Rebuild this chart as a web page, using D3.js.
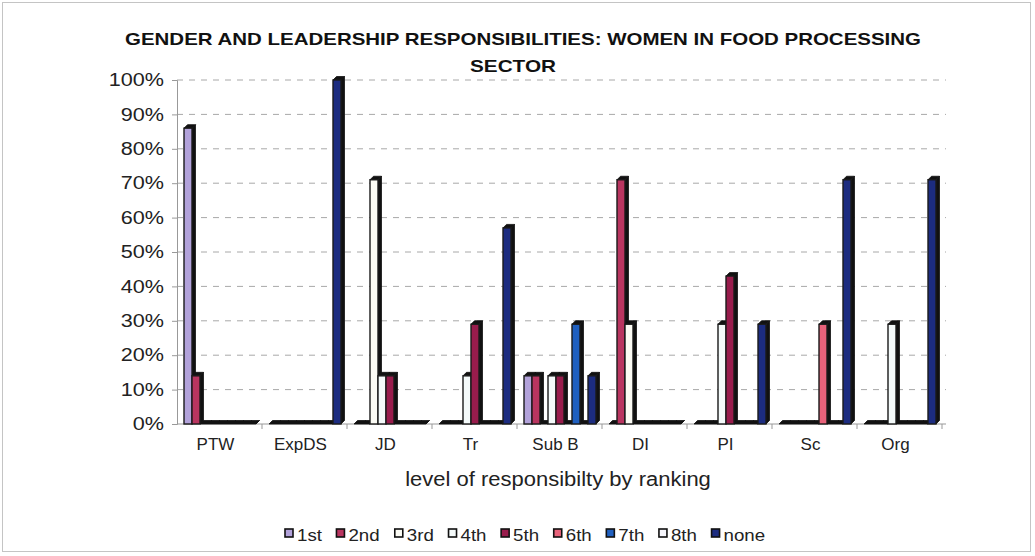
<!DOCTYPE html>
<html>
<head>
<meta charset="utf-8">
<script src="https://cdn.jsdelivr.net/npm/d3@7"></script>
<style>
  html, body { margin: 0; padding: 0; background: #fff; }
  svg { display: block; font-family: "Liberation Sans", Arial, sans-serif; }
</style>
</head>
<body>
<svg id="chart" width="1035" height="556"></svg>
<script>
// Categories of leadership responsibility
const categories = ["PTW", "ExpDS", "JD", "Tr", "Sub B", "DI", "PI", "Sc", "Org"];

// Ranking series (share of women, %)
const seriesNames = ["1st", "2nd", "3rd", "4th", "5th", "6th", "7th", "8th", "none"];
const rank1st  = [86, 0, 0, 0, 14, 0, 0, 0, 0];
const rank2nd  = [14, 0, 0, 0, 14, 71, 0, 0, 0];
const rank3rd  = [0, 0, 71, 0, 0, 29, 0, 0, 0];
const rank4th  = [0, 0, 14, 14, 14, 0, 29, 0, 29];
const rank5th  = [0, 0, 14, 29, 14, 0, 43, 0, 0];
const rank6th  = [0, 0, 0, 0, 0, 0, 0, 29, 0];
const rank7th  = [0, 0, 0, 0, 29, 0, 0, 0, 0];
const rank8th  = [0, 0, 0, 0, 0, 0, 0, 0, 0];
const rankNone = [0, 100, 0, 57, 14, 0, 29, 71, 71];
const seriesValues = [rank1st, rank2nd, rank3rd, rank4th, rank5th, rank6th, rank7th, rank8th, rankNone];
const seriesColors = ["#b2a2da", "#b93560", "#fbfbf4", "#f4fafa", "#981c4c", "#e8627a", "#2060c0", "#f6f6fc", "#1c2c80"];

const yTicks = [0, 10, 20, 30, 40, 50, 60, 70, 80, 90, 100];

const titleLines = ["GENDER AND LEADERSHIP RESPONSIBILITIES: WOMEN IN FOOD PROCESSING", "SECTOR"];
const xTitle = "level of responsibilty by ranking";

const svg = d3.select("#chart");

// stretch helper: widen a text element horizontally by factor k
function stretch(sel, k) {
  sel.each(function () {
    const len = this.getComputedTextLength();
    d3.select(this).attr("textLength", len * k).attr("lengthAdjust", "spacingAndGlyphs");
  });
}

// outer frame
svg.append("rect").attr("x", 2.5).attr("y", 2.5).attr("width", 1028).attr("height", 549)
  .attr("fill", "#fff").attr("stroke", "#c4c4c4").attr("stroke-width", 1);

const plot = { left: 177, right: 942, top: 80, bottom: 424 };

const x = d3.scaleBand().domain(categories).range([plot.left, plot.right]).paddingInner(0).paddingOuter(0);
const slot = d3.scaleBand().domain(seriesNames).range([7, 7 + 72]).padding(0);
const y = d3.scaleLinear().domain([0, 100]).range([plot.bottom, plot.top]);

// gridlines
svg.append("g").selectAll("line").data(yTicks.filter(d => d > 0)).join("line")
  .attr("x1", plot.left).attr("x2", plot.right + 4)
  .attr("y1", d => y(d)).attr("y2", d => y(d))
  .attr("stroke", "#a8a8a8").attr("stroke-width", 1).attr("stroke-dasharray", "6,6");

// y axis
const yAxis = svg.append("g").attr("transform", `translate(${plot.left},0)`)
  .call(d3.axisLeft(y).tickValues(yTicks).tickFormat(d => d + "%").tickSize(5).tickPadding(8));
yAxis.select(".domain").attr("stroke", "#999");
yAxis.selectAll(".tick line").attr("stroke", "#999");
yAxis.selectAll(".tick text").attr("font-size", 18).attr("fill", "#222")
  .attr("font-family", "Liberation Sans, Arial, sans-serif").call(stretch, 1.2);

// x axis baseline with category separators
const xAxis = svg.append("g").attr("transform", `translate(0,${plot.bottom})`);
xAxis.append("line").attr("x1", plot.left).attr("x2", plot.right + 4)
  .attr("stroke", "#999");
xAxis.selectAll("line.sep").data(categories.slice(1).concat(["_end"])).join("line")
  .attr("class", "sep")
  .attr("x1", (d, i) => plot.left + (i + 1) * x.bandwidth())
  .attr("x2", (d, i) => plot.left + (i + 1) * x.bandwidth())
  .attr("y1", 0).attr("y2", 5).attr("stroke", "#999");
xAxis.selectAll("text").data(categories).join("text")
  .attr("x", d => x(d) + x.bandwidth() / 2 - 4)
  .attr("y", 26)
  .attr("text-anchor", "middle").attr("font-size", 17).attr("fill", "#222")
  .text(d => d);

// columns with a shallow 3D cap and side
const depth = 3.5;
const bars = svg.append("g");
categories.forEach((cat, ci) => {
  seriesNames.forEach((name, si) => {
    const v = seriesValues[si][ci];
    const x0 = x(cat) + slot(name);
    const w = slot.bandwidth();
    const yv = y(v);
    const yb = y(0);
    const g = bars.append("g");
    // side face
    g.append("polygon")
      .attr("points", [[x0 + w, yv], [x0 + w + depth, yv - depth], [x0 + w + depth, yb - depth], [x0 + w, yb]].join(" "))
      .attr("fill", "#111").attr("stroke", "#111").attr("stroke-width", 0.8);
    // top face
    g.append("polygon")
      .attr("points", [[x0, yv], [x0 + depth, yv - depth], [x0 + w + depth, yv - depth], [x0 + w, yv]].join(" "))
      .attr("fill", "#111").attr("stroke", "#111").attr("stroke-width", 0.8);
    // front face
    if (v > 0) {
      g.append("rect").attr("x", x0).attr("y", yv).attr("width", w).attr("height", yb - yv)
        .attr("fill", seriesColors[si]).attr("stroke", "#1a1a1a").attr("stroke-width", 1.4);
    }
  });
});

// title
const title = svg.append("g").attr("font-weight", "bold").attr("fill", "#111").attr("font-size", 17);
title.append("text").attr("x", 523).attr("y", 45).attr("text-anchor", "middle")
  .attr("textLength", 796).attr("lengthAdjust", "spacingAndGlyphs").text(titleLines[0]);
title.append("text").attr("x", 513).attr("y", 72).attr("text-anchor", "middle")
  .attr("textLength", 86).attr("lengthAdjust", "spacingAndGlyphs").text(titleLines[1]);

// x axis title
svg.append("text").attr("x", 558).attr("y", 486).attr("text-anchor", "middle")
  .attr("font-size", 20).attr("fill", "#222").text(xTitle).call(stretch, 1.1);

// legend
const legend = svg.append("g").attr("transform", "translate(285,0)");
let lx = 0;
seriesNames.forEach((name, i) => {
  legend.append("rect").attr("x", lx).attr("y", 529).attr("width", 8).attr("height", 8)
    .attr("fill", seriesColors[i]).attr("stroke", "#111").attr("stroke-width", 1.6);
  const t = legend.append("text").attr("x", lx + 12).attr("y", 541)
    .attr("font-size", 17).attr("fill", "#222").text(name);
  stretch(t, 1.1);
  lx += 12 + t.node().getComputedTextLength() * 1.1 + 12;
});
</script>
</body>
</html>
